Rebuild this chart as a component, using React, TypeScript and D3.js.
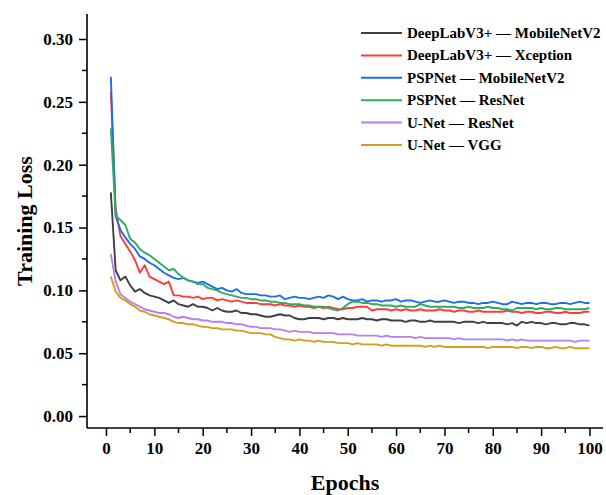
import React, { useEffect, useRef } from 'react';
import * as d3 from 'd3';

const seriesNames = [
  'DeepLabV3+ \u2014 MobileNetV2',
  'DeepLabV3+ \u2014 Xception',
  'PSPNet \u2014 MobileNetV2',
  'PSPNet \u2014 ResNet',
  'U-Net \u2014 ResNet',
  'U-Net \u2014 VGG',
];

const seriesColors = ['#404040', '#ff3b3b', '#1a6ee8', '#2fac5c', '#b67ff0', '#d49e1c'];

const deeplabMobile = [
  0.178, 0.116, 0.108, 0.111, 0.104, 0.099, 0.101, 0.098, 0.096, 0.095,
  0.094, 0.092, 0.090, 0.092, 0.089, 0.088, 0.087, 0.089, 0.087, 0.087,
  0.086, 0.084, 0.086, 0.084, 0.083, 0.083, 0.084, 0.082, 0.082, 0.081,
  0.081, 0.080, 0.079, 0.079, 0.080, 0.081, 0.080, 0.080, 0.078, 0.077,
  0.077, 0.078, 0.078, 0.078, 0.077, 0.078, 0.078, 0.077, 0.078, 0.077,
  0.077, 0.077, 0.078, 0.077, 0.077, 0.076, 0.077, 0.077, 0.076, 0.076,
  0.076, 0.075, 0.076, 0.076, 0.075, 0.075, 0.076, 0.075, 0.075, 0.075,
  0.075, 0.075, 0.074, 0.075, 0.075, 0.075, 0.074, 0.075, 0.074, 0.074,
  0.074, 0.074, 0.073, 0.074, 0.072, 0.075, 0.074, 0.075, 0.074, 0.074,
  0.073, 0.074, 0.074, 0.073, 0.073, 0.074, 0.074, 0.073, 0.073, 0.072,
];

const deeplabXception = [
  0.258, 0.165, 0.143, 0.137, 0.131, 0.124, 0.114, 0.120, 0.111, 0.109,
  0.107, 0.105, 0.107, 0.096, 0.096, 0.095, 0.095, 0.094, 0.095, 0.093,
  0.094, 0.094, 0.092, 0.093, 0.092, 0.091, 0.092, 0.091, 0.090, 0.090,
  0.090, 0.089, 0.089, 0.089, 0.088, 0.089, 0.088, 0.088, 0.087, 0.088,
  0.087, 0.087, 0.086, 0.087, 0.086, 0.087, 0.086, 0.085, 0.085, 0.086,
  0.086, 0.087, 0.087, 0.087, 0.084, 0.085, 0.085, 0.085, 0.084, 0.085,
  0.084, 0.085, 0.084, 0.084, 0.085, 0.084, 0.084, 0.084, 0.085, 0.084,
  0.084, 0.083, 0.084, 0.084, 0.083, 0.083, 0.084, 0.083, 0.083, 0.083,
  0.083, 0.083, 0.084, 0.083, 0.083, 0.082, 0.083, 0.083, 0.082, 0.082,
  0.083, 0.083, 0.082, 0.082, 0.083, 0.082, 0.082, 0.082, 0.083, 0.083,
];

const pspMobile = [
  0.270, 0.159, 0.148, 0.142, 0.137, 0.133, 0.127, 0.125, 0.122, 0.120,
  0.117, 0.114, 0.112, 0.110, 0.109, 0.110, 0.108, 0.107, 0.106, 0.107,
  0.105, 0.103, 0.101, 0.102, 0.100, 0.099, 0.101, 0.098, 0.097, 0.097,
  0.097, 0.096, 0.096, 0.095, 0.095, 0.096, 0.093, 0.094, 0.095, 0.094,
  0.094, 0.093, 0.094, 0.095, 0.094, 0.096, 0.095, 0.093, 0.095, 0.093,
  0.092, 0.092, 0.093, 0.091, 0.092, 0.092, 0.091, 0.092, 0.092, 0.093,
  0.091, 0.092, 0.092, 0.091, 0.090, 0.091, 0.092, 0.091, 0.091, 0.092,
  0.091, 0.090, 0.091, 0.091, 0.090, 0.090, 0.089, 0.090, 0.090, 0.091,
  0.090, 0.089, 0.089, 0.091, 0.090, 0.089, 0.090, 0.090, 0.089, 0.090,
  0.090, 0.089, 0.089, 0.090, 0.090, 0.089, 0.090, 0.091, 0.090, 0.090,
];

const pspResnet = [
  0.229, 0.159, 0.156, 0.152, 0.141, 0.138, 0.133, 0.130, 0.128, 0.125,
  0.122, 0.119, 0.116, 0.117, 0.113, 0.110, 0.108, 0.107, 0.105, 0.105,
  0.102, 0.101, 0.100, 0.098, 0.097, 0.096, 0.095, 0.094, 0.094, 0.093,
  0.093, 0.092, 0.092, 0.091, 0.091, 0.090, 0.090, 0.089, 0.089, 0.089,
  0.088, 0.088, 0.087, 0.087, 0.087, 0.086, 0.085, 0.084, 0.086, 0.089,
  0.091, 0.091, 0.090, 0.090, 0.089, 0.089, 0.088, 0.088, 0.088, 0.087,
  0.088, 0.087, 0.087, 0.087, 0.089, 0.088, 0.087, 0.087, 0.087, 0.087,
  0.087, 0.087, 0.086, 0.086, 0.087, 0.086, 0.086, 0.086, 0.087, 0.086,
  0.086, 0.085, 0.085, 0.084, 0.086, 0.086, 0.086, 0.086, 0.085, 0.086,
  0.085, 0.085, 0.086, 0.086, 0.085, 0.085, 0.085, 0.085, 0.085, 0.086,
];

const unetResnet = [
  0.129, 0.107, 0.097, 0.094, 0.091, 0.089, 0.087, 0.085, 0.084, 0.083,
  0.082, 0.082, 0.081, 0.079, 0.078, 0.079, 0.078, 0.077, 0.077, 0.076,
  0.076, 0.075, 0.075, 0.075, 0.074, 0.074, 0.073, 0.073, 0.072, 0.071,
  0.071, 0.070, 0.070, 0.070, 0.069, 0.069, 0.068, 0.067, 0.068, 0.067,
  0.067, 0.067, 0.066, 0.066, 0.066, 0.066, 0.066, 0.065, 0.065, 0.065,
  0.065, 0.064, 0.064, 0.064, 0.064, 0.064, 0.063, 0.064, 0.063, 0.063,
  0.063, 0.063, 0.063, 0.062, 0.063, 0.062, 0.062, 0.062, 0.062, 0.062,
  0.062, 0.061, 0.062, 0.061, 0.061, 0.061, 0.061, 0.061, 0.061, 0.061,
  0.061, 0.061, 0.060, 0.061, 0.060, 0.061, 0.060, 0.060, 0.060, 0.060,
  0.060, 0.060, 0.060, 0.060, 0.060, 0.060, 0.059, 0.060, 0.060, 0.060,
];

const unetVgg = [
  0.111, 0.099, 0.094, 0.092, 0.089, 0.087, 0.084, 0.083, 0.081, 0.080,
  0.079, 0.078, 0.077, 0.075, 0.074, 0.074, 0.073, 0.073, 0.072, 0.071,
  0.071, 0.070, 0.070, 0.069, 0.069, 0.069, 0.068, 0.068, 0.067, 0.066,
  0.066, 0.066, 0.065, 0.065, 0.063, 0.062, 0.061, 0.061, 0.060, 0.061,
  0.060, 0.060, 0.059, 0.060, 0.059, 0.059, 0.059, 0.058, 0.058, 0.058,
  0.057, 0.058, 0.057, 0.057, 0.057, 0.057, 0.056, 0.057, 0.056, 0.056,
  0.056, 0.056, 0.056, 0.056, 0.056, 0.055, 0.056, 0.055, 0.056, 0.055,
  0.055, 0.055, 0.055, 0.055, 0.055, 0.055, 0.055, 0.055, 0.054, 0.055,
  0.055, 0.055, 0.055, 0.055, 0.054, 0.055, 0.055, 0.054, 0.055, 0.055,
  0.054, 0.054, 0.055, 0.054, 0.054, 0.055, 0.054, 0.054, 0.054, 0.054,
];

const seriesValues = [deeplabMobile, deeplabXception, pspMobile, pspResnet, unetResnet, unetVgg];

const xTicks = [0, 10, 20, 30, 40, 50, 60, 70, 80, 90, 100];
const yTicks = [0.0, 0.05, 0.1, 0.15, 0.2, 0.25, 0.3];

const FONT = '"Liberation Serif", "Times New Roman", serif';

const App = () => {
  const svgRef = useRef<SVGSVGElement>(null);

  useEffect(() => {
    const width = 606, height = 495;
    const left = 87, right = 603, top = 14, bottom = 428;

    const svg = d3.select(svgRef.current);
    svg.selectAll('*').remove();
    svg.attr('width', width).attr('height', height);

    const x = d3.scaleLinear().domain([-3.93, 102.8]).range([left, right]);
    const y = d3.scaleLinear().domain([-0.0095, 0.3199]).range([bottom, top]);

    // lines
    const line = d3.line<number>()
      .x((_, i) => x(i + 1))
      .y(d => y(d));

    svg.append('g')
      .selectAll('path')
      .data(seriesValues)
      .join('path')
      .attr('d', d => line(d))
      .attr('fill', 'none')
      .attr('stroke', (_, i) => seriesColors[i])
      .attr('stroke-width', 1.9)
      .attr('stroke-linejoin', 'round');

    // x axis
    const xMinor = d3.range(5, 100, 10);
    const gx = svg.append('g')
      .attr('transform', `translate(0,${bottom})`)
      .call(d3.axisBottom(x).tickValues(xTicks).tickSize(8).tickPadding(6).tickFormat(d3.format('d')));
    gx.append('g')
      .selectAll('line')
      .data(xMinor)
      .join('line')
      .attr('x1', d => x(d)).attr('x2', d => x(d))
      .attr('y1', 0).attr('y2', 5)
      .attr('stroke', '#000').attr('stroke-width', 1.5);

    // y axis
    const yMinor = d3.range(0.025, 0.3, 0.05);
    const gy = svg.append('g')
      .attr('transform', `translate(${left},0)`)
      .call(d3.axisLeft(y).tickValues(yTicks).tickSize(8).tickPadding(6).tickFormat(d3.format('.2f')));
    gy.append('g')
      .selectAll('line')
      .data(yMinor)
      .join('line')
      .attr('y1', d => y(d)).attr('y2', d => y(d))
      .attr('x1', 0).attr('x2', -5)
      .attr('stroke', '#000').attr('stroke-width', 1.5);

    [gx, gy].forEach(g => {
      g.select('.domain').attr('stroke', '#000').attr('stroke-width', 1.6)
        .attr('d', g === gx ? `M${left},0H${right}` : `M0,${top}V${bottom}`);
      g.selectAll('.tick line').attr('stroke', '#000').attr('stroke-width', 1.5);
      g.selectAll('.tick text')
        .attr('fill', '#000')
        .style('font-family', FONT)
        .style('font-weight', 'bold')
        .style('font-size', '17px');
    });

    // axis titles
    svg.append('text')
      .attr('x', 345).attr('y', 490)
      .attr('text-anchor', 'middle')
      .style('font-family', FONT).style('font-weight', 'bold').style('font-size', '22px')
      .text('Epochs');

    svg.append('text')
      .attr('transform', 'translate(32,221) rotate(-90)')
      .attr('text-anchor', 'middle')
      .style('font-family', FONT).style('font-weight', 'bold').style('font-size', '22px')
      .text('Training Loss');

    // legend
    const legend = svg.append('g').attr('transform', 'translate(361,33)');
    const rows = legend.selectAll('g')
      .data(seriesNames)
      .join('g')
      .attr('transform', (_, i) => `translate(0,${i * 22.4})`);
    rows.append('line')
      .attr('x1', 0).attr('x2', 41).attr('y1', 0).attr('y2', 0)
      .attr('stroke', (_, i) => seriesColors[i]).attr('stroke-width', 2);
    rows.append('text')
      .attr('x', 46).attr('y', 5)
      .style('font-family', FONT).style('font-weight', 'bold').style('font-size', '15px')
      .text(d => d);
  }, []);

  return <svg ref={svgRef} style={{ position: 'absolute', left: 0, top: 0 }}></svg>;
};

export default App;
